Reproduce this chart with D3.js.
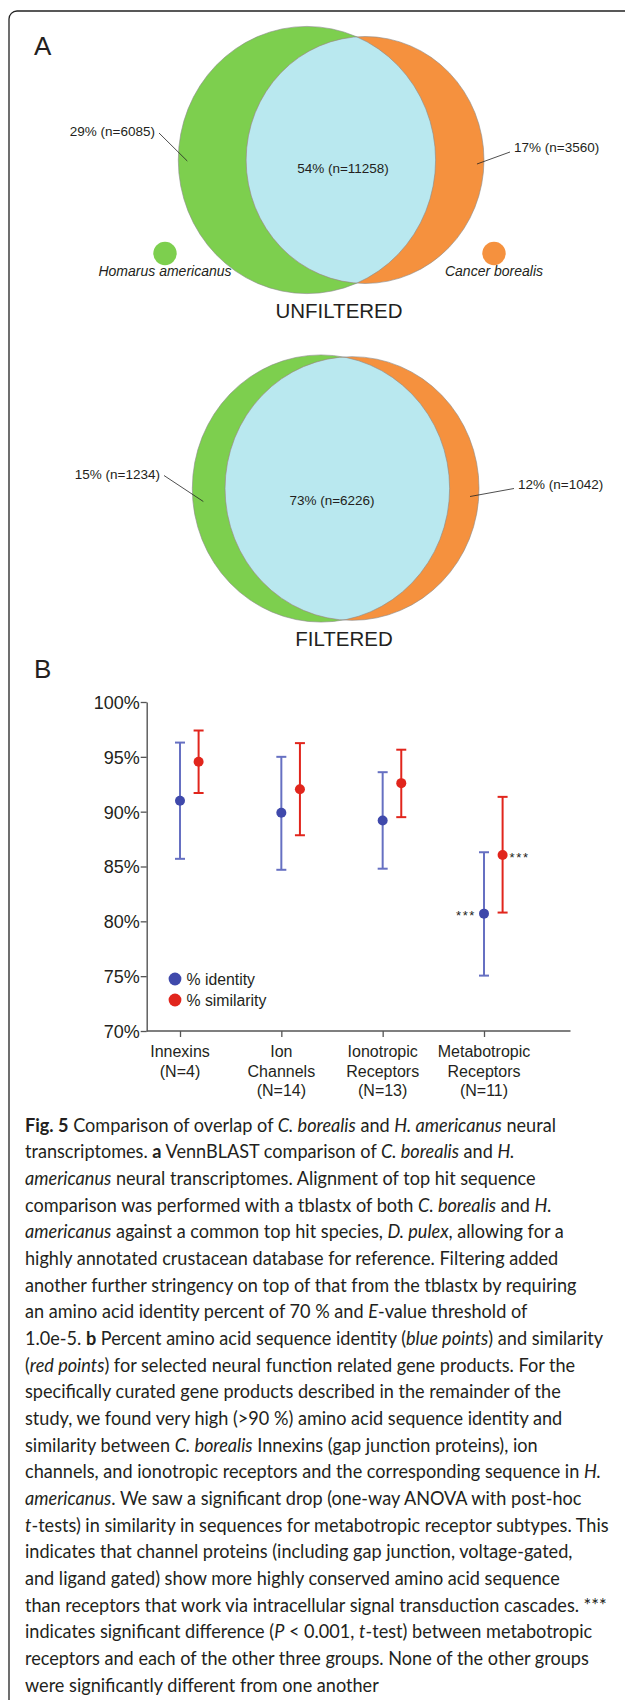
<!DOCTYPE html>
<html>
<head>
<meta charset="utf-8">
<script src="https://cdn.jsdelivr.net/npm/d3@7"></script>
<style>
  body { margin: 0; background: #fff; }
  svg { display: block; }
  .sans { font-family: "Liberation Sans", Arial, Helvetica, sans-serif; fill: #231f20; }
  .cap { font-family: Lato, "Open Sans", sans-serif; fill: #231f20; }
</style>
</head>
<body>
<svg id="fig" width="625" height="1700"></svg>
<script>
// ---- data ----
const vennSets = ['Homarus americanus', 'Cancer borealis'];
const unfilteredCounts = [6085, 3560, 11258];   // only H, only C, both
const unfilteredPct = [29, 17, 54];
const filteredCounts = [1234, 1042, 6226];
const filteredPct = [15, 12, 73];

const categories = ['Innexins', 'Ion Channels', 'Ionotropic Receptors', 'Metabotropic Receptors'];
const categoryLines = [['Innexins'], ['Ion', 'Channels'], ['Ionotropic', 'Receptors'], ['Metabotropic', 'Receptors']];
const groupN = [4, 14, 13, 11];
const identityMean = [91.0, 89.9, 89.2, 80.7];
const identityLow = [85.7, 84.7, 84.8, 75.05];
const identityHigh = [96.3, 95.0, 93.6, 86.3];
const similarityMean = [94.55, 92.05, 92.6, 86.05];
const similarityLow = [91.7, 87.85, 89.5, 80.8];
const similarityHigh = [97.4, 96.25, 95.65, 91.35];
const significant = [false, false, false, true];
const yTicks = [70, 75, 80, 85, 90, 95, 100];

const captionLines = [
  '^Fig. 5^ Comparison of overlap of _C. borealis_ and _H. americanus_ neural',
  'transcriptomes. ^a^ VennBLAST comparison of _C. borealis_ and _H._',
  '_americanus_ neural transcriptomes. Alignment of top hit sequence',
  'comparison was performed with a tblastx of both _C. borealis_ and _H._',
  '_americanus_ against a common top hit species, _D. pulex_, allowing for a',
  'highly annotated crustacean database for reference. Filtering added',
  'another further stringency on top of that from the tblastx by requiring',
  'an amino acid identity percent of 70 % and _E_-value threshold of',
  '1.0e-5. ^b^ Percent amino acid sequence identity (_blue points_) and similarity',
  '(_red points_) for selected neural function related gene products. For the',
  'specifically curated gene products described in the remainder of the',
  'study, we found very high (>90 %) amino acid sequence identity and',
  'similarity between _C. borealis_ Innexins (gap junction proteins), ion',
  'channels, and ionotropic receptors and the corresponding sequence in _H._',
  '_americanus_. We saw a significant drop (one-way ANOVA with post-hoc',
  '_t_-tests) in similarity in sequences for metabotropic receptor subtypes. This',
  'indicates that channel proteins (including gap junction, voltage-gated,',
  'and ligand gated) show more highly conserved amino acid sequence',
  'than receptors that work via intracellular signal transduction cascades. ***',
  'indicates significant difference (_P_ < 0.001, _t_-test) between metabotropic',
  'receptors and each of the other three groups. None of the other groups',
  'were significantly different from one another'
];

const green = '#7dcf4e', orange = '#f5913e', overlap = '#b9e8ef';
const blue = '#3f49ab', blueBar = '#6670c2', red = '#e1251c';

const svg = d3.select('#fig');

// frame with rounded top-left corner
svg.append('path')
   .attr('d', 'M9,1700 L9,19 A8,8 0 0 1 17,11 L640,11')
   .attr('fill', 'none').attr('stroke', '#222').attr('stroke-width', 1.3);

svg.append('text').attr('class', 'sans').attr('x', 34).attr('y', 55)
   .attr('font-size', 26).text('A');
svg.append('text').attr('class', 'sans').attr('x', 34).attr('y', 678)
   .attr('font-size', 26).text('B');

// ---- Venn helpers ----
function lensArea(r1, r2, d) {
  if (d >= r1 + r2) return 0;
  if (d <= Math.abs(r1 - r2)) return Math.PI * Math.min(r1, r2) ** 2;
  let a1 = Math.acos((d * d + r1 * r1 - r2 * r2) / (2 * d * r1)),
      a2 = Math.acos((d * d + r2 * r2 - r1 * r1) / (2 * d * r2)),
      k = Math.sqrt((-d + r1 + r2) * (d + r1 - r2) * (d - r1 + r2) * (d + r1 + r2));
  return r1 * r1 * a1 + r2 * r2 * a2 - k / 2;
}

function drawVenn(id, counts, pct, opt) {
  let totals = [counts[0] + counts[2], counts[1] + counts[2]],
      rScale = d3.scaleSqrt().domain([0, d3.max(totals)]).range([0, 133.6]),
      r1 = rScale(totals[0]),
      r2 = rScale(totals[1]),
      target = Math.PI * r1 * r1 * counts[2] / totals[0];

  // bisection for centre distance so the overlap area is proportional
  let lo = Math.abs(r1 - r2), hi = r1 + r2;
  for (let i = 0; i < 60; i++) {
    let mid = (lo + hi) / 2;
    if (lensArea(r1, r2, mid) > target) lo = mid; else hi = mid;
  }
  let d = (lo + hi) / 2;

  let g = svg.append('g')
             .attr('transform', `translate(${opt.cx},${opt.cy}) scale(${opt.sx},1)`);

  g.append('clipPath').attr('id', 'clip-' + id)
   .append('circle').attr('cx', -d / 2).attr('cy', 0).attr('r', r1);

  g.append('circle').attr('cx', -d / 2).attr('r', r1).attr('fill', green);
  g.append('circle').attr('cx', d / 2).attr('r', r2).attr('fill', orange);
  g.append('circle').attr('cx', d / 2).attr('r', r2).attr('fill', overlap)
   .attr('clip-path', `url(#clip-${id})`);
  g.selectAll('circle.outline')
   .data([[-d / 2, r1], [d / 2, r2]])
   .enter().append('circle').attr('class', 'outline')
   .attr('cx', (c) => c[0]).attr('r', (c) => c[1])
   .attr('fill', 'none').attr('stroke', '#8a8a8a').attr('stroke-width', 0.6)
   .attr('vector-effect', 'non-scaling-stroke');

  let left = opt.cx - (d / 2 + r1) * opt.sx,
      right = opt.cx + (d / 2 + r2) * opt.sx,
      labels = counts.map((n, i) => `${pct[i]}% (n=${n})`);

  // leader lines
  svg.append('line').attr('x1', opt.l.tx + 4).attr('y1', opt.l.ty - 3)
     .attr('x2', left + opt.l.dx).attr('y2', opt.cy + opt.l.dy)
     .attr('stroke', '#222').attr('stroke-width', 0.8);
  svg.append('line').attr('x1', opt.r.tx - 4).attr('y1', opt.r.ty)
     .attr('x2', right + opt.r.dx).attr('y2', opt.cy + opt.r.dy)
     .attr('stroke', '#222').attr('stroke-width', 0.8);

  svg.append('text').attr('class', 'sans').attr('font-size', 13.5)
     .attr('x', opt.l.tx).attr('y', opt.l.ty).attr('text-anchor', 'end').text(labels[0]);
  svg.append('text').attr('class', 'sans').attr('font-size', 13.5)
     .attr('x', opt.r.tx).attr('y', opt.r.ty).text(labels[1]);
  svg.append('text').attr('class', 'sans').attr('font-size', 13.5)
     .attr('x', opt.mx).attr('y', opt.my).attr('text-anchor', 'middle').text(labels[2]);

  svg.append('text').attr('class', 'sans').attr('font-size', 20.5)
     .attr('x', opt.tx).attr('y', opt.ty).attr('text-anchor', 'middle').text(opt.title);
}

drawVenn('unf', unfilteredCounts, unfilteredPct, {
  cx: 336, cy: 160, sx: 0.963, title: 'UNFILTERED', tx: 339, ty: 318,
  mx: 343, my: 173,
  l: { tx: 155, ty: 136, dx: 9, dy: 1 },
  r: { tx: 514, ty: 152, dx: -7, dy: 4 }
});
drawVenn('fil', filteredCounts, filteredPct, {
  cx: 336.5, cy: 488.5, sx: 0.963, title: 'FILTERED', tx: 344, ty: 646,
  mx: 332, my: 505,
  l: { tx: 160, ty: 478.5, dx: 11, dy: 13 },
  r: { tx: 518, ty: 488.5, dx: -9, dy: 8 }
});

// Venn legend
let vennLegend = svg.selectAll('g.vleg')
  .data(vennSets).enter().append('g').attr('class', 'vleg')
  .attr('transform', (d, i) => `translate(${i ? 494 : 165},0)`);
vennLegend.append('circle').attr('cy', 253.5).attr('r', 11.7)
  .attr('fill', (d, i) => i ? orange : green);
vennLegend.append('text').attr('class', 'sans').attr('y', 276)
  .attr('font-size', 14).attr('font-style', 'italic')
  .attr('text-anchor', 'middle').text((d) => d);

// ---- panel B ----
let y = d3.scaleLinear().domain([70, 100]).range([1031, 702]);
let x = d3.scalePoint().domain(categories).range([180, 484]);
let axisX0 = 146.7, axisX1 = 570.5, offset = 18.6;

let yAxis = svg.append('g').attr('transform', `translate(${axisX0},0)`)
  .call(d3.axisLeft(y).tickValues(yTicks).tickFormat((d) => d + '%').tickSize(6).tickSizeOuter(0));
yAxis.select('.domain').attr('stroke', '#555').attr('stroke-width', 1.4);
yAxis.selectAll('.tick line').attr('stroke', '#555').attr('stroke-width', 1.3);
yAxis.selectAll('.tick text').attr('font-family', '"Liberation Sans", Arial, sans-serif')
  .attr('font-size', 18).attr('fill', '#231f20').attr('x', -7).attr('dy', '0.36em');

let xAxis = svg.append('g').attr('transform', `translate(0,${y(70)})`)
  .call(d3.axisBottom(x).tickSize(6).tickFormat(''));
xAxis.select('.domain').remove();
xAxis.append('line').attr('x1', axisX0).attr('x2', axisX1)
  .attr('stroke', '#555').attr('stroke-width', 1.4);
xAxis.selectAll('.tick line').attr('stroke', '#555').attr('stroke-width', 1.3);

let xLab = svg.selectAll('text.xlab')
  .data(categories).enter().append('text').attr('class', 'sans xlab')
  .attr('font-size', 16).attr('text-anchor', 'middle')
  .attr('transform', (d) => `translate(${x(d)},1057)`);
xLab.selectAll('tspan')
  .data((d, i) => categoryLines[i].concat([`(N=${groupN[i]})`]))
  .enter().append('tspan').attr('x', 0).attr('y', (d, j) => j * 19.7).text((d) => d);

function drawSeries(mean, low, high, dx, barColor, dotColor, cls) {
  let g = svg.append('g').attr('class', cls);
  let rows = categories.map((c, i) => ({ c, m: mean[i], lo: low[i], hi: high[i], sig: significant[i] }));
  let s = g.selectAll('g').data(rows).enter().append('g')
           .attr('transform', (d) => `translate(${x(d.c) + dx},0)`);
  s.append('line').attr('y1', (d) => y(d.lo)).attr('y2', (d) => y(d.hi))
   .attr('stroke', barColor).attr('stroke-width', 2);
  s.selectAll('line.cap').data((d) => [d.lo, d.hi]).enter().append('line').attr('class', 'cap')
   .attr('x1', -5).attr('x2', 5).attr('y1', (v) => y(v)).attr('y2', (v) => y(v))
   .attr('stroke', barColor).attr('stroke-width', 2);
  s.append('circle').attr('cy', (d) => y(d.m)).attr('r', 5).attr('fill', dotColor);
  return s;
}

let idSeries = drawSeries(identityMean, identityLow, identityHigh, 0, blueBar, blue, 'identity');
let simSeries = drawSeries(similarityMean, similarityLow, similarityHigh, offset, red, red, 'similarity');

idSeries.filter((d) => d.sig).append('text').attr('class', 'sans')
  .attr('x', -8).attr('y', (d) => y(d.m) + 6).attr('text-anchor', 'end')
  .attr('font-size', 13).attr('letter-spacing', 1.6).text('***');
simSeries.filter((d) => d.sig).append('text').attr('class', 'sans')
  .attr('x', 7).attr('y', (d) => y(d.m) + 7)
  .attr('font-size', 13).attr('letter-spacing', 1.6).text('***');

let leg = svg.selectAll('g.pleg').data(['% identity', '% similarity'])
  .enter().append('g').attr('class', 'pleg')
  .attr('transform', (d, i) => `translate(175,${979 + i * 21})`);
leg.append('circle').attr('r', 6.4).attr('fill', (d, i) => i ? red : blue);
leg.append('text').attr('class', 'sans').attr('x', 11.5).attr('y', 6.2)
  .attr('font-size', 15.8).text((d) => d);

// ---- caption ----
let capRows = svg.selectAll('text.cap').data(captionLines).enter()
  .append('text').attr('class', 'cap').attr('font-size', 19);
capRows.each(function (line) {
  let parts = line.split(/(\^[^^]*\^|_[^_]*_)/).filter((p) => p.length);
  d3.select(this).selectAll('tspan').data(parts).enter().append('tspan')
    .attr('font-weight', (p) => p[0] === '^' ? 700 : null)
    .attr('font-style', (p) => p[0] === '_' ? 'italic' : null)
    .text((p) => (p[0] === '^' || p[0] === '_') ? p.slice(1, -1) : p);
});
// squeeze horizontally so the longest line fits like the original narrow face
let widths = [];
capRows.each(function () { widths.push(this.getComputedTextLength()); });
let capSx = 584 / d3.max(widths);
capRows.attr('transform', (d, i) => `translate(25,${1131.7 + i * 26.67}) scale(${capSx},1)`);
</script>
</body>
</html>
